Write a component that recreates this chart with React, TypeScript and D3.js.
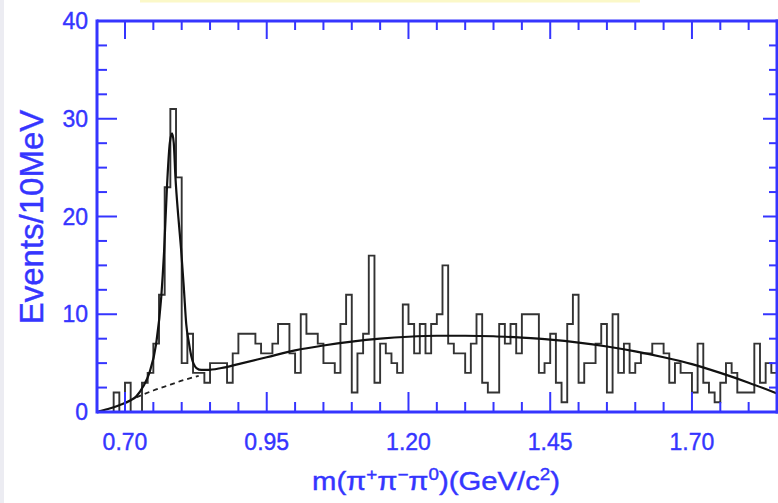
import React from "react";
import * as d3 from "d3";

// Histogram: events per 10 MeV bin, starting at 0.65 GeV
const binStart = 0.65;
const binWidth = 0.01;
const counts = [
  0, 0, 0, 2, 0, 3, 0, 0, 3, 4,
  7, 12, 23, 31, 24, 5, 8, 4, 4, 3,
  5, 5, 5, 3, 6, 8, 8, 8, 7, 6,
  6, 7, 9, 9, 6, 4, 10, 8, 8, 7,
  5, 5, 4, 9, 12, 2, 6, 8, 16, 3,
  7, 6, 5, 4, 11, 9, 6, 9, 6, 9,
  10, 15, 7, 6, 6, 4, 7, 10, 3, 2,
  2, 9, 7, 9, 6, 10, 10, 10, 4, 5,
  8, 3, 1, 9, 12, 3, 5, 5, 7, 9,
  2, 10, 4, 7, 4, 5, 6, 6, 7, 7,
  6, 3, 5, 4, 4, 2, 7, 3, 2, 1,
  3, 5, 4, 2, 2, 2, 7, 3, 5, 4,
];

// Total fit (signal + background)
const fitMass = [
  0.65, 0.67, 0.69, 0.71, 0.72, 0.732, 0.743, 0.755, 0.764, 0.769, 0.774, 0.779, 0.783,
  0.786, 0.789, 0.794, 0.799, 0.804, 0.808, 0.813, 0.817, 0.826, 0.835, 0.845, 0.87,
  0.9, 0.95, 1.0, 1.05, 1.1, 1.15, 1.2, 1.25, 1.3, 1.35, 1.4, 1.45, 1.5, 1.55, 1.6,
  1.65, 1.7, 1.75, 1.8, 1.85,
];
const fitValue = [
  0, 0.3, 0.7, 1.2, 1.6, 2.6, 4.0, 7.0, 11.8, 16.5, 23, 27.5, 28.5,
  27.5, 24, 20, 16.6, 12.5, 9, 7, 5.7, 4.5, 4.3, 4.3, 4.5,
  4.9, 5.6, 6.3, 6.8, 7.2, 7.5, 7.7, 7.8, 7.8, 7.75, 7.6, 7.4, 7.1, 6.7, 6.2,
  5.6, 4.9, 4.0, 3.0, 1.9,
];

// Background only (dashed under the peak)
const bgMass = [0.72, 0.75, 0.78, 0.80, 0.83];
const bgValue = [1.5, 2.2, 2.8, 3.2, 3.7];

const xMajorTicks = [0.7, 0.95, 1.2, 1.45, 1.7];
const xTickLabels = ["0.70", "0.95", "1.20", "1.45", "1.70"];
const yMajorTicks = [0, 10, 20, 30, 40];
const yTickLabels = ["0", "10", "20", "30", "40"];

const BLUE = "#3535ff";

export default function App() {
  const W = 778;
  const H = 503;
  const left = 97;
  const right = 777;
  const top = 21;
  const bottom = 412;

  const x = d3.scaleLinear().domain([0.65, 1.85]).range([96.65, 777]);
  const y = d3.scaleLinear().domain([0, 40]).range([bottom, top]);

  const edges: [number, number][] = counts.map((c, i) => [binStart + i * binWidth, c]);
  edges.push([binStart + counts.length * binWidth, counts[counts.length - 1]]);
  const histPath = d3
    .line<[number, number]>()
    .x((d) => x(d[0]))
    .y((d) => y(d[1]))
    .curve(d3.curveStepAfter)(edges) as string;

  const fitPts: [number, number][] = fitMass.map((m, i) => [m, fitValue[i]]);
  const fitPath = d3
    .line<[number, number]>()
    .x((d) => x(d[0]))
    .y((d) => y(d[1]))
    .curve(d3.curveMonotoneX)(fitPts) as string;

  const bgPts: [number, number][] = bgMass.map((m, i) => [m, bgValue[i]]);
  const bgPath = d3
    .line<[number, number]>()
    .x((d) => x(d[0]))
    .y((d) => y(d[1]))
    .curve(d3.curveMonotoneX)(bgPts) as string;

  const xMinor = d3
    .range(0, 25)
    .map((i) => Math.round((0.65 + i * 0.05) * 100) / 100)
    .filter((v) => !xMajorTicks.some((m) => Math.abs(m - v) < 1e-6) && v > 0.66 && v < 1.84);
  const yMinor = d3
    .range(0, 17)
    .map((i) => i * 2.5)
    .filter((v) => v % 10 !== 0);

  return (
    <svg
      width={W}
      height={H}
      style={{ position: "absolute", left: 0, top: 0, background: "#ffffff" }}
      fontFamily="'Liberation Sans', Arial, Helvetica, sans-serif"
    >
      <rect x={0} y={0} width={W} height={H} fill="#ffffff" />
      <rect x={0} y={0} width={4} height={H} fill="#ececf2" />
      <rect x={140} y={0} width={500} height={2.5} fill="#fbf8c8" />

      {/* histogram */}
      <path d={histPath} fill="none" stroke="#333" strokeWidth={1.9} />
      {/* background dashed */}
      <path d={bgPath} fill="none" stroke="#222" strokeWidth={1.8} strokeDasharray="5,4" />
      {/* total fit */}
      <path d={fitPath} fill="none" stroke="#111" strokeWidth={2.2} />

      {/* frame */}
      <g stroke={BLUE} fill="none">
        <line x1={left} x2={right + 2} y1={bottom} y2={bottom} strokeWidth={3} />
        <line x1={left} x2={right + 2} y1={top} y2={top} strokeWidth={3} />
        <line x1={left} x2={left} y1={top - 1.5} y2={bottom + 1.5} strokeWidth={3} />
        <line x1={right} x2={right} y1={top - 1.5} y2={bottom + 1.5} strokeWidth={3} />
      </g>

      {/* ticks */}
      <g stroke={BLUE} strokeWidth={2}>
        {xMajorTicks.map((t) => (
          <g key={"xm" + t}>
            <line x1={x(t)} x2={x(t)} y1={bottom} y2={bottom - 20} />
            <line x1={x(t)} x2={x(t)} y1={top} y2={top + 18} />
          </g>
        ))}
        {xMinor.map((t) => (
          <g key={"xn" + t}>
            <line x1={x(t)} x2={x(t)} y1={bottom} y2={bottom - 10} />
            <line x1={x(t)} x2={x(t)} y1={top} y2={top + 9} />
          </g>
        ))}
        {yMajorTicks
          .filter((t) => t > 0 && t < 40)
          .map((t) => (
            <g key={"ym" + t}>
              <line x1={left} x2={left + 20} y1={y(t)} y2={y(t)} />
              <line x1={right} x2={right - 14} y1={y(t)} y2={y(t)} />
            </g>
          ))}
        {yMinor.map((t) => (
          <g key={"yn" + t}>
            <line x1={left} x2={left + 10} y1={y(t)} y2={y(t)} />
            <line x1={right} x2={right - 8} y1={y(t)} y2={y(t)} />
          </g>
        ))}
      </g>

      {/* tick labels */}
      <g fill={BLUE} stroke={BLUE} strokeWidth={0.4} fontSize={23}>
        {xMajorTicks.map((t, i) => (
          <text key={"xl" + t} x={x(t)} y={450} textAnchor="middle">
            {xTickLabels[i]}
          </text>
        ))}
        {yMajorTicks.map((t, i) => (
          <text key={"yl" + t} x={88} y={y(t) + 8} textAnchor="end">
            {yTickLabels[i]}
          </text>
        ))}
      </g>

      {/* axis titles */}
      <text
        transform="translate(43,217) rotate(-90)"
        textAnchor="middle"
        fill={BLUE}
        stroke={BLUE}
        strokeWidth={0.4}
        fontSize={33}
      >
        Events/10MeV
      </text>
      <text
        x={312}
        y={490}
        fill={BLUE}
        stroke={BLUE}
        strokeWidth={0.4}
        fontSize={25}
        textLength={248}
        lengthAdjust="spacingAndGlyphs"
      >
        m(π<tspan dy={-10} fontSize={16}>+</tspan>
        <tspan dy={10}>π</tspan>
        <tspan dy={-10} fontSize={16}>−</tspan>
        <tspan dy={10}>π</tspan>
        <tspan dy={-10} fontSize={16}>0</tspan>
        <tspan dy={10}>)(GeV/c</tspan>
        <tspan dy={-10} fontSize={16}>2</tspan>
        <tspan dy={10}>)</tspan>
      </text>
    </svg>
  );
}
